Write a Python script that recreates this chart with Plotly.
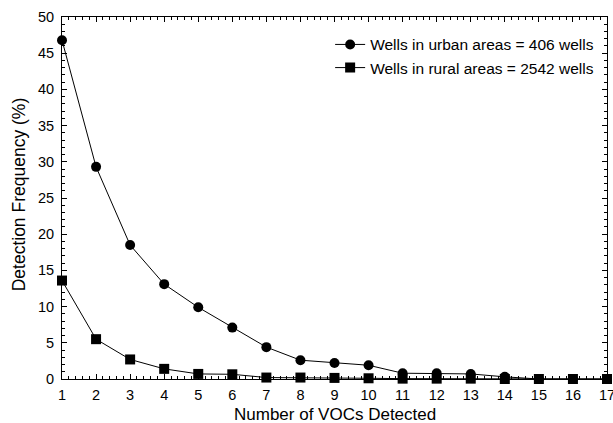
import plotly.graph_objects as go

vocs = list(range(1, 18))
urban = [46.8, 29.3, 18.5, 13.1, 9.9, 7.1, 4.4, 2.6, 2.2, 1.9, 0.8, 0.8, 0.7, 0.3, 0.0, 0.0, 0.0]
rural = [13.6, 5.5, 2.7, 1.4, 0.7, 0.65, 0.2, 0.2, 0.15, 0.1, 0.05, 0.05, 0.05, 0.0, 0.0, 0.0, 0.0]
x_ticks = list(range(1, 18))
y_ticks = list(range(0, 51, 5))

fig = go.Figure()
fig.add_trace(go.Scatter(
    x=vocs, y=urban, mode="lines+markers", name="Wells in urban areas = 406 wells",
    line=dict(color="black", width=1),
    marker=dict(symbol="circle", size=10, color="black"),
    cliponaxis=False,
))
fig.add_trace(go.Scatter(
    x=vocs, y=rural, mode="lines+markers", name="Wells in rural areas = 2542 wells",
    line=dict(color="black", width=1),
    marker=dict(symbol="square", size=10, color="black"),
    cliponaxis=False,
))
# invisible trace to activate the mirrored top/right axes
fig.add_trace(go.Scatter(x=[1], y=[0], xaxis="x2", yaxis="y2", mode="markers",
                         marker=dict(opacity=0), showlegend=False, hoverinfo="skip"))

font = "Liberation Sans, Arial, Helvetica, sans-serif"
common = dict(showline=True, linecolor="black", linewidth=1, ticks="inside", ticklen=5,
              tickcolor="black", showgrid=False, zeroline=False, automargin=False)
fig.update_layout(
    width=613, height=423,
    margin=dict(l=62, r=6, t=17, b=44),
    paper_bgcolor="white", plot_bgcolor="white",
    font=dict(family=font, size=14, color="black"),
    showlegend=True,
    legend=dict(x=0.492, y=0.97, xanchor="left", yanchor="top",
                font=dict(size=15.5), bgcolor="rgba(0,0,0,0)",
                tracegroupgap=0, itemwidth=30),
    xaxis=dict(
        range=[1, 17], tickvals=x_ticks, ticktext=[str(v) for v in x_ticks],
        minor=dict(ticks="inside", ticklen=3, dtick=0.2, tickcolor="black", showgrid=False),
        tickfont=dict(size=14.5), ticklabeloverflow="allow", ticklabelstandoff=3, **common,
    ),
    yaxis=dict(
        range=[0, 50], tickvals=y_ticks, ticktext=[str(v) for v in y_ticks],
        minor=dict(ticks="inside", ticklen=3, dtick=1, tickcolor="black", showgrid=False),
        tickfont=dict(size=14.5), ticklabelstandoff=4, **common,
    ),
    xaxis2=dict(
        range=[1, 17], overlaying="x", side="top", anchor="y", tickvals=x_ticks,
        showticklabels=False,
        minor=dict(ticks="inside", ticklen=3, dtick=0.2, tickcolor="black", showgrid=False),
        **common,
    ),
    yaxis2=dict(
        range=[0, 50], overlaying="y", side="right", anchor="x", tickvals=y_ticks,
        showticklabels=False,
        minor=dict(ticks="inside", ticklen=3, dtick=1, tickcolor="black", showgrid=False),
        **common,
    ),
    annotations=[
        dict(text="Number of VOCs Detected", xref="paper", yref="paper", x=0.5, y=-0.098,
             xanchor="center", yanchor="middle", showarrow=False, font=dict(size=17)),
        dict(text="Detection Frequency (%)", xref="paper", yref="paper", x=-0.079, y=0.51,
             xanchor="center", yanchor="middle", textangle=-90, showarrow=False,
             font=dict(size=17.5)),
    ],
)

fig.write_html("out.html", config={"displayModeBar": False},
               post_script="document.body.style.margin='0';document.body.style.overflow='hidden';")
